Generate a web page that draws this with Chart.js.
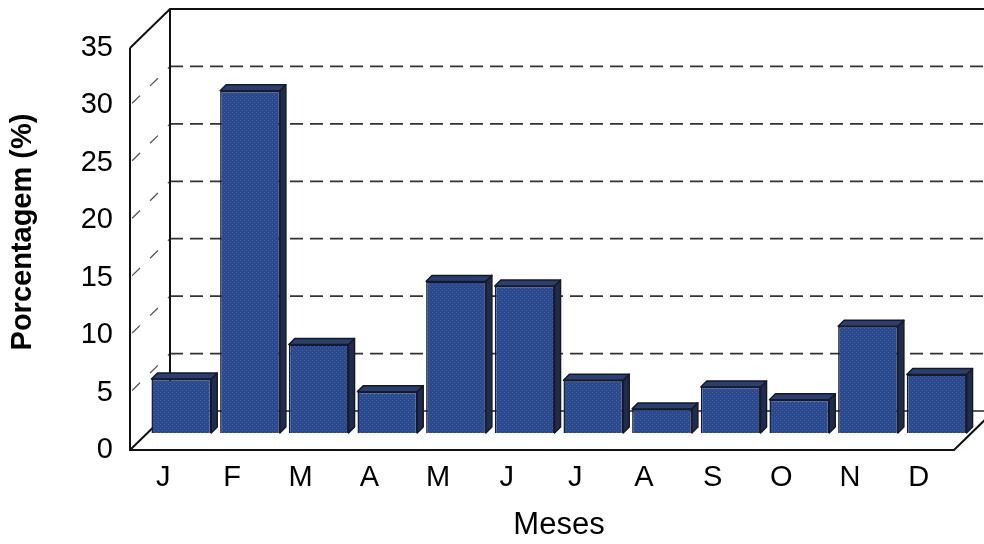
<!DOCTYPE html>
<html>
<head>
<meta charset="utf-8">
<script src="https://cdn.jsdelivr.net/npm/chart.js@4/dist/chart.umd.min.js"></script>
<style>
  html, body { margin: 0; padding: 0; background: #ffffff; }
  canvas { display: block; }
</style>
</head>
<body>
<canvas id="chart" width="984" height="544"></canvas>
<script>
// Monthly share (%) by month
const months = ['J', 'F', 'M', 'A', 'M', 'J', 'J', 'A', 'S', 'O', 'N', 'D'];
const percentages = [4.7, 29.8, 7.7, 3.6, 13.2, 12.8, 4.6, 2.1, 4.0, 2.9, 9.3, 5.1];
const yTicks = [0, 5, 10, 15, 20, 25, 30, 35];
const yTitle = 'Porcentagem (%)';
const xTitle = 'Meses';

// Perspective offsets relative to the plane of the bar fronts
const FRONT = { dx: -17, dy: 17 };   // front edge of floor / left wall
const BACK = { dx: 23, dy: -22 };    // back wall
const DEPTH = { dx: 6, dy: -6 };     // thickness of each column

// Dotted blue fill for column faces
function dotPattern(base, dot) {
  const c = document.createElement('canvas');
  c.width = 4; c.height = 4;
  const g = c.getContext('2d');
  g.fillStyle = base; g.fillRect(0, 0, 4, 4);
  g.fillStyle = dot;
  g.fillRect(0, 0, 1, 1);
  g.fillRect(2, 2, 1, 1);
  return g.createPattern(c, 'repeat');
}
const frontFill = dotPattern('#2b4a8e', '#4563a6');

const walls3d = {
  id: 'walls3d',
  beforeDatasetsDraw(chart) {
    const { ctx, chartArea: a, scales } = chart;
    const y = scales.y;
    const yTop = y.getPixelForValue(35);
    const yZero = y.getPixelForValue(0);
    const L = a.left, R = a.right;
    ctx.save();
    // back wall gridlines (dashed)
    ctx.strokeStyle = '#333';
    ctx.lineWidth = 1.8;
    ctx.setLineDash([13, 7]);
    for (const v of yTicks) {
      if (v === 0 || v === 35) continue;
      const py = y.getPixelForValue(v);
      ctx.beginPath();
      ctx.moveTo(L + BACK.dx, py + BACK.dy);
      ctx.lineTo(R + BACK.dx + 10, py + BACK.dy);
      ctx.stroke();
    }
    // left wall diagonal gridlines
    ctx.strokeStyle = '#555';
    ctx.lineWidth = 1.3;
    ctx.setLineDash([11, 14]);
    ctx.lineDashOffset = -3;
    for (const v of yTicks) {
      if (v === 0 || v === 35) continue;
      const py = y.getPixelForValue(v);
      ctx.beginPath();
      ctx.moveTo(L + FRONT.dx, py + FRONT.dy);
      ctx.lineTo(L + BACK.dx, py + BACK.dy);
      ctx.stroke();
    }
    ctx.setLineDash([]);
    ctx.lineDashOffset = 0;
    // back floor line
    ctx.strokeStyle = '#222';
    ctx.lineWidth = 1.6;
    ctx.beginPath();
    ctx.moveTo(L + BACK.dx, yZero + BACK.dy);
    ctx.lineTo(R + BACK.dx + 10, yZero + BACK.dy);
    ctx.stroke();
    // wall outlines
    ctx.strokeStyle = '#111';
    ctx.lineWidth = 2;
    ctx.beginPath();
    // left wall front edge
    ctx.moveTo(L + FRONT.dx, yTop + FRONT.dy);
    ctx.lineTo(L + FRONT.dx, yZero + FRONT.dy);
    // floor front edge and right edge
    ctx.lineTo(R + FRONT.dx, yZero + FRONT.dy);
    ctx.lineTo(R + BACK.dx, yZero + BACK.dy);
    // left wall top edge and back wall top
    ctx.moveTo(L + FRONT.dx, yTop + FRONT.dy);
    ctx.lineTo(L + BACK.dx, yTop + BACK.dy);
    ctx.lineTo(R + BACK.dx + 10, yTop + BACK.dy);
    // back wall left edge
    ctx.moveTo(L + BACK.dx, yTop + BACK.dy);
    ctx.lineTo(L + BACK.dx, yZero + BACK.dy);
    // floor left edge
    ctx.moveTo(L + FRONT.dx, yZero + FRONT.dy);
    ctx.lineTo(L + BACK.dx, yZero + BACK.dy);
    ctx.stroke();
    ctx.restore();
  },
  afterDatasetsDraw(chart) {
    const { ctx } = chart;
    const meta = chart.getDatasetMeta(0);
    ctx.save();
    ctx.strokeStyle = '#15192a';
    ctx.lineWidth = 1.5;
    ctx.lineJoin = 'round';
    for (const bar of meta.data) {
      const p = bar.getProps(['x', 'y', 'base', 'width'], true);
      const x1 = p.x - p.width / 2, x2 = p.x + p.width / 2;
      const top = p.y, bot = p.base;
      // side face
      ctx.fillStyle = '#1f2c4c';
      ctx.beginPath();
      ctx.moveTo(x2, top);
      ctx.lineTo(x2 + DEPTH.dx, top + DEPTH.dy);
      ctx.lineTo(x2 + DEPTH.dx, bot + DEPTH.dy);
      ctx.lineTo(x2, bot);
      ctx.closePath();
      ctx.fill();
      ctx.stroke();
      // top face
      ctx.fillStyle = '#2a3f6e';
      ctx.beginPath();
      ctx.moveTo(x1, top);
      ctx.lineTo(x1 + DEPTH.dx, top + DEPTH.dy);
      ctx.lineTo(x2 + DEPTH.dx, top + DEPTH.dy);
      ctx.lineTo(x2, top);
      ctx.closePath();
      ctx.fill();
      ctx.stroke();
    }
    ctx.restore();
  }
};

new Chart(document.getElementById('chart'), {
  type: 'bar',
  data: {
    labels: months,
    datasets: [{
      data: percentages,
      backgroundColor: frontFill,
      borderColor: '#15192a',
      borderWidth: 1.5,
      categoryPercentage: 1,
      barPercentage: 0.87
    }]
  },
  options: {
    responsive: false,
    animation: false,
    layout: { padding: { left: 0, top: 31, right: 13, bottom: 0 } },
    plugins: { legend: { display: false }, tooltip: { enabled: false } },
    scales: {
      x: {
        grid: { display: false, drawTicks: false },
        border: { display: false },
        ticks: {
          color: '#000',
          font: { family: 'Liberation Sans, Arial, sans-serif', size: 29 },
          padding: 28,
          labelOffset: -18,
          maxRotation: 0,
          autoSkip: false
        },
        title: {
          display: true,
          text: xTitle,
          color: '#000',
          font: { family: 'Liberation Sans, Arial, sans-serif', size: 31 },
          padding: { top: 0, bottom: 0 }
        },
        afterFit(scale) {
          scale.height = 111;
          scale.paddingLeft = 0;
          scale.paddingRight = 0;
        }
      },
      y: {
        min: 0,
        max: 35,
        grid: { display: false, drawTicks: false },
        border: { display: false },
        afterBuildTicks(scale) { scale.ticks = yTicks.map(v => ({ value: v })); },
        ticks: {
          color: '#000',
          font: { family: 'Liberation Sans, Arial, sans-serif', size: 29 },
          padding: 34,
          labelOffset: 17
        },
        title: {
          display: true,
          text: yTitle,
          color: '#000',
          font: { family: 'Liberation Sans, Arial, sans-serif', size: 29, weight: 'bold' },
          padding: { top: 6, bottom: 0 }
        },
        afterFit(scale) {
          scale.width = 147;
          scale.paddingTop = 0;
          scale.paddingBottom = 0;
        }
      }
    }
  },
  plugins: [walls3d]
});
</script>
</body>
</html>
